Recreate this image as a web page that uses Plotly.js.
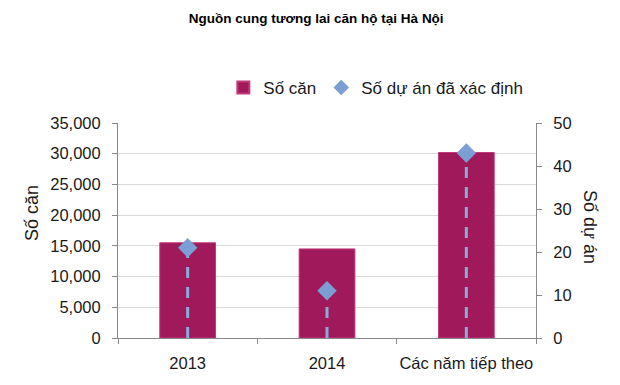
<!DOCTYPE html>
<html>
<head>
<meta charset="utf-8">
<script src="https://cdn.plot.ly/plotly-3.0.1.min.js"></script>
<style>html,body{margin:0;padding:0;background:#fff;}#chart{width:620px;height:385px;}</style>
</head>
<body>
<div id="chart"></div>
<script>
const categories = ["2013", "2014", "Các năm tiếp theo"];
const soCan = [15500, 14500, 30200];
const soDuAn = [21, 11, 43];
const leftTicks = [0, 5000, 10000, 15000, 20000, 25000, 30000, 35000];
const rightTicks = [0, 10, 20, 30, 40, 50];

const FONT = "Liberation Sans, Arial, sans-serif";
const BAR_COLOR = "#A0195A";
const DIAMOND_COLOR = "#7B9FD4";
const DASH_COLOR = "#8EA9DB";
const TXT = "#1a1a1a";

const traces = [];
traces.push({
  type: "bar", x: categories, y: soCan, name: "Số căn",
  marker: {color: BAR_COLOR, line: {color: "#C0397A", width: 1}},
  width: 0.4, yaxis: "y"
});
categories.forEach((c, i) => {
  traces.push({
    type: "scatter", mode: "lines", x: [c, c], y: [0, soDuAn[i]], yaxis: "y2",
    line: {color: DASH_COLOR, width: 3, dash: "11px,9px"}, showlegend: false, hoverinfo: "skip"
  });
});
traces.push({
  type: "scatter", mode: "markers", x: categories, y: soDuAn, name: "Số dự án đã xác định",
  marker: {symbol: "diamond", color: DIAMOND_COLOR, size: 15}, yaxis: "y2"
});

const layout = {
  width: 620, height: 385,
  margin: {l: 118, r: 84, t: 123, b: 47},
  paper_bgcolor: "#fff", plot_bgcolor: "#fff",
  font: {family: FONT, size: 16.5, color: TXT},
  title: {text: "Nguồn cung tương lai căn hộ tại Hà Nội", font: {family: FONT, size: 13.5, color: "#000", weight: "bold"}, x: 0.51, xanchor: "center", y: 0.953, yanchor: "middle"},
  showlegend: true,
  legend: {orientation: "h", x: 0.252, xanchor: "left", y: 1.163, yanchor: "middle", font: {size: 17, color: TXT}, itemwidth: 30, itemsizing: "constant", traceorder: "normal"},
  xaxis: {
    type: "category", showline: true, linecolor: "#888", linewidth: 1,
    ticks: "outside", tickson: "boundaries", ticklen: 5, tickcolor: "#888",
    tickangle: 0, ticklabelstandoff: 10,
    tickfont: {size: 16.5, color: TXT}, showgrid: false, zeroline: false, fixedrange: true
  },
  yaxis: {
    range: [0, 35000], tickvals: leftTicks, tickformat: ",d",
    showline: true, linecolor: "#888", ticks: "outside", ticklen: 5, tickcolor: "#888",
    ticklabelstandoff: 8,
    gridcolor: "#D9D9D9", zeroline: false, tickfont: {size: 16.5, color: TXT}
  },
  yaxis2: {
    range: [0, 50], tickvals: rightTicks, overlaying: "y", side: "right",
    showline: true, linecolor: "#888", ticks: "outside", ticklen: 5, tickcolor: "#888",
    ticklabelstandoff: 8,
    showgrid: false, zeroline: false, tickfont: {size: 16.5, color: TXT}
  },
  annotations: [{
    text: "Số căn", xref: "paper", yref: "paper", x: (32 - 118) / 418, y: (338 - 213) / 215,
    textangle: -90, showarrow: false, font: {size: 18, color: TXT}, xanchor: "center", yanchor: "middle"
  }, {
    text: "Số dự án", xref: "paper", yref: "paper", x: (590 - 118) / 418, y: (338 - 227) / 215,
    textangle: 90, showarrow: false, font: {size: 18, color: TXT}, xanchor: "center", yanchor: "middle"
  }]
};

Plotly.newPlot("chart", traces, layout, {displayModeBar: false, staticPlot: true});
</script>
</body>
</html>
